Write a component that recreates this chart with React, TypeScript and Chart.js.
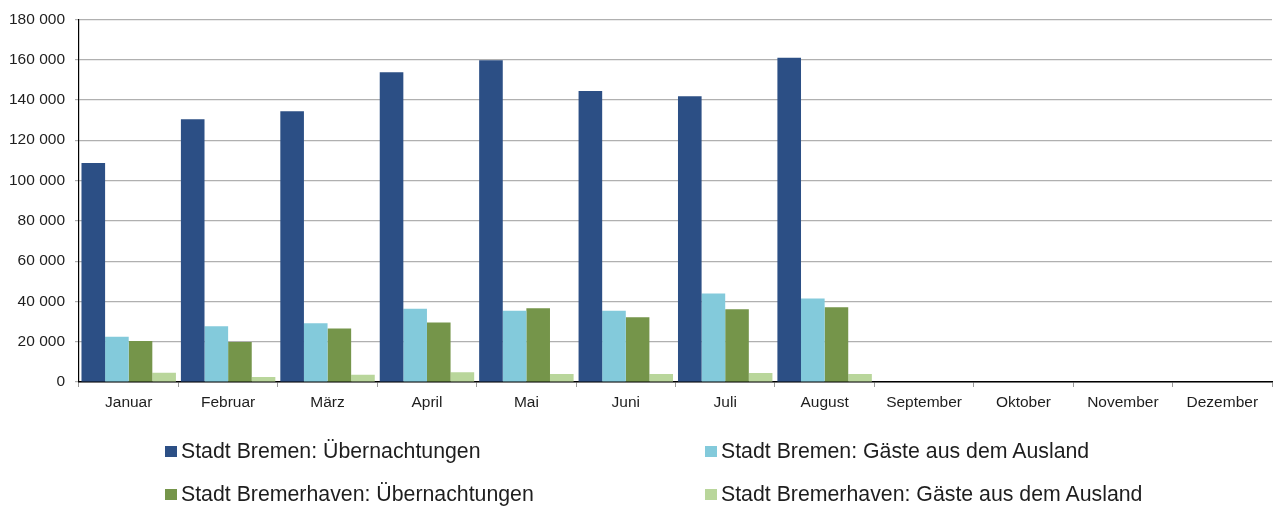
import React, { useEffect, useRef } from "react";
import { Chart, registerables } from "chart.js";

Chart.register(...registerables);

const months = ["Januar", "Februar", "März", "April", "Mai", "Juni", "Juli", "August", "September", "Oktober", "November", "Dezember"];
const bremenNights = [108700, 130400, 134400, 153700, 159700, 144400, 141800, 160900, null, null, null, null];
const bremenForeign = [22400, 27700, 29200, 36400, 35300, 35300, 43900, 41400, null, null, null, null];
const bhvNights = [20300, 19800, 26500, 29500, 36600, 32100, 36100, 37100, null, null, null, null];
const bhvForeign = [4600, 2500, 3600, 4800, 4000, 4000, 4500, 4000, null, null, null, null];
const seriesNames = [
  "Stadt Bremen: Übernachtungen",
  "Stadt Bremen: Gäste aus dem Ausland",
  "Stadt Bremerhaven: Übernachtungen",
  "Stadt Bremerhaven: Gäste aus dem Ausland",
];
const seriesColors = ["#2C4F85", "#83CADB", "#75954A", "#B9D69B"];

const FONT = "'Liberation Sans', Arial, sans-serif";

export default function App() {
  const ref = useRef<HTMLCanvasElement | null>(null);
  useEffect(() => {
    if (!ref.current) return;
    const values = [bremenNights, bremenForeign, bhvNights, bhvForeign];
    const chart = new Chart(ref.current, {
      type: "bar",
      data: {
        labels: months,
        datasets: values.map((v, i) => ({
          label: seriesNames[i],
          data: v,
          backgroundColor: seriesColors[i],
          borderWidth: 0,
          categoryPercentage: 0.95,
          barPercentage: 1.0,
        })),
      },
      options: {
        animation: false,
        responsive: false,
        maintainAspectRatio: false,
        layout: { padding: { left: 0, right: 2, top: 18, bottom: 0 } },
        plugins: { legend: { display: false }, tooltip: { enabled: false } },
        scales: {
          x: {
            grid: {
              display: true,
              drawOnChartArea: false,
              offset: true,
              tickLength: 5,
              color: "#9a9a9a",
            },
            border: { color: "#000000", width: 1.5 },
            ticks: { color: "#1e1e1e", font: { family: FONT, size: 15.5 }, padding: 6, maxRotation: 0, autoSkip: false },
            afterFit: (s: any) => {
              s.height = 124;
            },
          },
          y: {
            min: 0,
            max: 180000,
            ticks: {
              stepSize: 20000,
              color: "#1e1e1e",
              font: { family: FONT, size: 15.5 },
              padding: 10,
              callback: (v: any) => {
                const n = Number(v);
                return n >= 1000 ? Math.floor(n / 1000) + " " + String(n % 1000).padStart(3, "0") : String(n);
              },
            },
            grid: { color: "#b0b0b0", lineWidth: 1.2, tickLength: 4 },
            border: { color: "#000000", width: 1.2 },
            afterFit: (s: any) => {
              s.width = 79;
            },
          },
        },
      },
    });
    return () => chart.destroy();
  }, []);

  const legendPos = [
    { left: 165, top: 451 },
    { left: 705, top: 451 },
    { left: 165, top: 494 },
    { left: 705, top: 494 },
  ];

  return (
    <div style={{ position: "fixed", left: 0, top: 0, width: 1274, height: 506, background: "#fff" }}>
      <canvas ref={ref} width={1274} height={506} style={{ position: "absolute", left: 0, top: 0 }} />
      {seriesNames.map((name, i) => (
        <div
          key={name}
          style={{
            position: "absolute",
            left: legendPos[i].left,
            top: legendPos[i].top - 12,
            height: 24,
            display: "flex",
            alignItems: "center",
            fontFamily: FONT,
            fontSize: 21.3,
            color: "#1e1e1e",
            whiteSpace: "nowrap",
          }}
        >
          <span style={{ display: "inline-block", width: 12, height: 11, background: seriesColors[i], marginRight: 4 }} />
          <span>{name}</span>
        </div>
      ))}
    </div>
  );
}
